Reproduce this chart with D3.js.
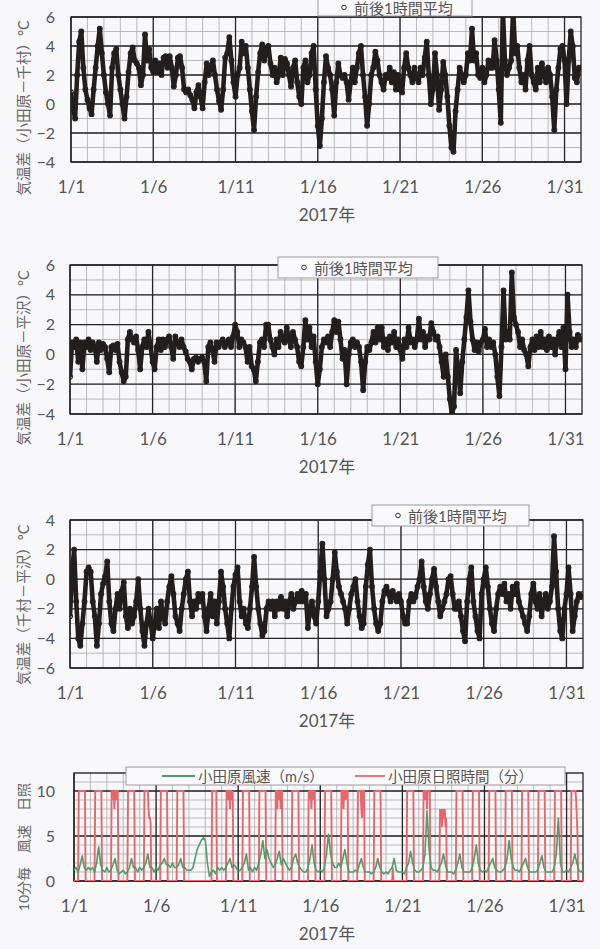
<!DOCTYPE html>
<html><head><meta charset="utf-8">
<script src="https://cdn.jsdelivr.net/npm/d3@7"></script>
<style>
body{margin:0;background:#f8f8fb;}
svg{display:block;}
text{font-family:Lato,'Noto Sans CJK JP',sans-serif;fill:#555;}
</style></head><body>
<svg id="c" width="600" height="949"></svg>
<script>
// ---------- DATA (3-hourly samples from 2017-01-01 00:00) ----------
const sampleHours = 3;
const tickDays = [1, 6, 11, 16, 21, 26, 31];
const tickLabels = ["1/1", "1/6", "1/11", "1/16", "1/21", "1/26", "1/31"];
const yearLabel = "2017年";
const legendTemp = "前後1時間平均";
const legendWind = "小田原風速（m/s）";
const legendSun = "小田原日照時間（分）";
const titles = ["気温差（小田原－千村）°C", "気温差（小田原－平沢）°C", "気温差（千村－平沢）°C", "10分毎　風速　日照"];
const yTicksA = [-4, -2, 0, 2, 4, 6];
const yTicksB = [-6, -4, -2, 0, 2, 4];
const yTicksC = [0, 5, 10];

// 気温差（小田原－千村）
const diffOdaChi = [
 0.8,-0.3,-1.0,2.0,4.3,5.0,2.5,1.0,
 0.3,-0.3,-0.7,1.0,2.5,4.0,5.2,3.5,
 2.0,0.8,0.0,-0.8,2.5,3.5,3.8,2.0,
 1.0,0.0,-1.0,0.5,2.2,3.5,3.9,3.0,
 2.8,2.5,1.3,2.0,4.8,3.0,3.8,2.5,
 2.2,3.0,2.2,2.8,2.0,3.2,3.3,2.5,
 3.3,2.5,1.2,2.0,3.2,3.3,2.5,1.0,
 0.8,1.0,0.6,0.3,-0.3,0.8,1.3,0.5,
 -0.3,1.5,2.8,2.0,2.5,3.0,2.0,1.0,
 0.2,-0.4,1.0,3.2,3.5,4.6,3.0,1.5,
 0.5,2.0,2.5,4.3,3.5,4.0,2.5,1.0,
 -0.5,-1.8,0.5,2.2,3.5,4.1,3.0,3.8,
 4.0,2.8,2.0,2.5,1.5,2.0,3.2,2.0,
 3.1,2.8,2.0,1.2,2.5,3.0,1.5,0.5,
 0.0,2.5,3.0,1.5,2.0,3.5,4.0,1.0,
 -1.5,-2.9,-1.0,1.5,3.3,2.5,2.0,1.0,
 -0.8,1.5,2.8,2.0,1.8,2.0,1.5,0.3,
 1.5,2.5,1.5,2.5,3.5,4.0,2.0,0.5,
 -1.5,0.0,2.0,2.5,3.6,3.0,2.0,1.5,
 1.0,2.0,1.8,2.5,1.5,2.2,1.0,2.0,
 1.0,0.8,2.5,3.5,2.5,2.0,1.5,2.5,
 1.8,1.5,2.5,2.0,3.2,4.3,2.0,0.0,
 1.0,3.5,2.0,-0.4,1.0,2.9,2.0,0.5,
 -1.5,-3.0,-3.3,-0.5,1.0,2.5,2.0,1.5,
 2.0,3.5,3.0,5.2,3.0,3.5,2.0,1.8,
 2.5,1.5,2.0,3.0,2.5,2.5,4.4,3.0,
 1.0,-1.3,6.5,3.0,2.0,2.5,3.0,6.5,
 3.5,4.0,2.5,1.5,2.0,1.0,3.0,4.0,
 2.0,1.5,1.0,2.5,1.5,2.8,2.0,1.5,
 2.5,2.0,0.5,-1.8,1.0,2.5,3.8,4.0,
 3.0,0.0,3.0,5.0,4.0,1.8,1.5,2.5,
 2.5];

// 気温差（小田原－平沢）
const diffOdaHira = [
 -1.5,0.8,0.5,1.0,-0.5,0.8,-1.0,0.8,
 0.5,1.0,0.3,0.8,0.5,-0.5,0.8,0.3,
 0.7,0.5,-0.3,-1.2,0.5,0.6,0.3,0.7,
 -0.5,-1.2,-1.8,-1.5,1.0,1.5,1.0,0.8,
 1.2,0.3,-1.0,0.5,1.0,0.5,1.5,0.5,
 -0.5,-1.0,0.5,1.0,0.3,1.0,0.5,1.0,
 1.2,0.5,-0.3,1.2,0.8,0.5,1.0,0.5,
 0.2,-0.3,-0.5,-1.0,-0.3,-0.2,-0.5,-0.3,
 -0.2,-0.5,-1.8,0.5,0.8,0.3,-0.5,0.8,
 0.5,0.8,1.0,0.5,0.8,1.0,0.5,1.2,
 2.0,1.5,0.5,1.0,0.8,0.5,-0.5,0.5,
 -0.8,-1.0,-1.8,-0.5,0.8,1.0,0.5,2.0,
 2.0,1.0,0.5,0.0,1.0,0.5,1.5,1.0,
 0.8,1.8,1.0,0.5,1.5,1.0,0.5,-0.5,
 -0.8,0.5,2.3,1.0,1.8,0.5,1.2,-0.5,
 -2.0,-1.0,0.5,1.0,0.8,1.2,0.5,1.5,
 2.3,1.5,2.2,1.0,-0.3,0.3,-2.0,0.0,
 0.8,1.0,0.5,0.8,0.5,-0.5,-2.4,-0.5,
 0.5,0.3,0.8,1.5,0.8,1.8,1.0,1.8,
 0.5,1.0,0.3,1.2,0.8,1.5,0.5,1.0,
 0.3,-0.3,1.0,0.5,1.8,0.8,1.0,0.5,
 1.0,2.4,1.0,1.5,0.5,1.2,1.0,2.1,
 1.5,1.0,1.2,0.5,-0.5,-1.5,0.0,-1.5,
 -3.0,-4.0,-3.5,0.3,-1.0,-2.6,-0.5,1.0,
 2.5,4.3,2.2,1.0,0.3,0.8,0.2,0.8,
 1.0,1.7,0.5,1.0,0.5,0.8,0.0,-1.5,
 -2.8,0.5,4.3,1.0,1.5,1.0,5.5,2.5,
 2.0,1.5,0.5,1.0,0.3,0.0,-0.8,0.5,
 1.0,0.3,1.2,0.5,1.5,0.5,1.0,0.3,
 1.2,0.5,1.0,0.0,1.0,1.5,0.5,1.8,
 -1.0,4.0,1.5,0.5,1.0,0.5,1.3,1.0,
 1.2];

// 気温差（千村－平沢）
const diffChiHira = [
 -2.5,0.5,2.0,-1.5,-4.0,-4.5,-3.0,-1.5,
 0.5,0.8,0.5,-1.5,-2.5,-4.5,-3.0,-1.0,
 -0.3,0.2,1.2,-1.5,-3.0,-3.5,-2.0,-1.0,
 -2.0,-0.8,-0.2,-2.5,-3.3,-2.0,-3.0,-2.5,
 -1.5,0.0,-2.0,-3.5,-4.5,-3.0,-2.0,-3.0,
 -4.0,-3.0,-2.0,-3.3,-1.5,-2.5,-3.0,-1.5,
 -0.5,0.2,-1.0,-2.5,-3.0,-3.5,-2.0,-1.0,
 0.0,0.5,-1.5,-2.5,-1.5,-2.0,-1.0,-1.5,
 -1.0,-2.5,-3.5,-2.0,-1.0,-2.5,-1.5,-3.0,
 -1.5,0.5,-0.5,-2.0,-3.0,-4.0,-2.0,-0.5,
 0.3,0.8,-1.5,-2.5,-2.0,-3.0,-3.3,-2.0,
 -0.5,1.5,-0.5,-2.0,-3.0,-3.8,-3.5,-2.0,
 -1.5,-2.0,-1.5,-2.5,-1.5,-2.0,-1.2,-2.0,
 -1.5,-2.5,-1.5,-1.0,-2.0,-1.5,-1.0,-1.5,
 -0.8,-1.5,-1.0,-3.3,-2.0,-1.5,-2.5,-3.0,
 -1.5,0.5,2.4,0.0,-2.5,-2.0,-1.5,0.0,
 1.8,0.5,-0.5,-1.0,-1.5,-2.0,-3.0,-2.0,
 -1.0,-0.5,0.0,-1.5,-2.5,-3.3,-3.0,-0.5,
 1.0,2.0,-0.5,-2.0,-3.0,-3.5,-3.0,-1.5,
 -0.8,-0.5,-1.0,-1.5,-0.8,-1.2,-1.5,-1.0,
 -1.5,-2.5,-3.0,-3.0,-1.5,-1.0,-1.5,-1.2,
 -0.5,0.0,1.2,-0.5,-1.5,-2.0,-1.0,0.0,
 0.7,-0.5,-1.5,-2.5,-2.0,-1.5,-1.0,0.0,
 0.2,-1.0,-2.0,-2.0,-1.5,-2.5,-3.5,-4.2,
 -1.5,0.0,0.8,-1.5,-2.5,-3.5,-4.0,-1.0,
 0.0,0.8,-0.5,-2.0,-3.0,-3.5,-2.0,-1.0,
 -0.5,-1.0,-0.3,-1.5,-1.0,-2.0,-0.5,-1.0,
 -0.3,-1.5,-2.0,-2.5,-3.0,-3.5,-2.5,-1.0,
 -0.3,-1.5,-2.0,-1.0,-2.5,-1.5,-1.0,-2.0,
 -1.5,-0.5,2.9,0.5,-2.0,-3.5,-4.0,-2.0,
 -1.0,0.8,-1.0,-3.5,-2.5,-1.5,-1.0,-1.2,
 -1.0];

// 小田原風速 (m/s), 3-hourly
const windOda = [
 1.2,1.5,1.0,1.8,2.8,1.5,1.2,1.5,
 1.2,1.5,1.0,2.0,3.8,1.8,1.2,1.0,
 1.5,1.0,1.2,1.8,2.5,1.2,0.8,1.0,
 1.2,0.8,1.0,1.5,2.5,1.5,1.5,1.0,
 1.5,1.2,1.5,2.0,3.0,1.5,1.5,1.0,
 1.5,1.2,1.8,2.0,2.5,1.8,1.8,1.5,
 2.0,1.5,1.5,1.8,2.5,1.5,1.5,1.2,
 1.2,1.2,1.5,2.5,3.5,4.0,4.5,4.8,
 4.5,2.0,0.5,1.0,1.2,0.8,1.5,1.2,
 1.5,1.2,1.5,2.0,2.5,1.5,1.8,1.5,
 1.0,1.2,1.5,2.0,3.0,1.2,1.5,1.0,
 1.5,1.2,2.0,3.0,4.5,2.5,3.5,2.5,
 2.0,1.5,1.8,2.5,3.3,1.8,2.5,2.0,
 1.5,1.2,1.5,2.5,3.0,2.0,1.5,1.2,
 1.0,1.0,1.5,2.5,4.0,2.0,1.2,1.0,
 1.2,1.0,1.5,3.0,5.2,3.0,2.0,1.5,
 1.5,2.0,1.5,2.5,3.5,2.0,1.0,1.0,
 1.0,1.2,1.0,1.8,2.5,1.5,1.0,1.0,
 1.0,0.8,1.0,1.5,2.5,1.5,1.0,0.8,
 1.0,0.8,1.2,1.5,2.5,1.2,1.0,1.0,
 1.0,0.8,1.5,2.0,3.3,2.0,1.2,1.0,
 1.0,1.2,1.5,3.0,7.8,3.5,1.5,1.2,
 1.2,1.0,1.5,2.0,3.0,1.8,1.0,1.0,
 1.0,0.8,1.2,2.0,3.0,1.5,1.0,1.0,
 1.0,1.0,1.5,2.5,4.0,2.0,1.2,1.0,
 1.2,1.0,1.5,2.0,2.5,1.5,1.2,1.0,
 1.0,1.2,1.5,2.5,4.5,2.5,1.5,1.2,
 1.2,1.0,1.5,2.0,2.5,1.5,1.0,1.0,
 1.0,1.0,1.2,2.0,2.8,1.5,1.0,1.0,
 1.0,1.0,1.5,3.0,7.0,2.0,1.0,1.0,
 1.2,1.0,1.5,2.0,3.0,2.0,1.2,1.0,
 1.2];

// 小田原日照時間 (min per 10 min), hourly 06:00..17:00 of each day (0 at night)
const sunFirstHour = 6;
const sunOda = [
 [0,10,10,10,10,10,10,10,10,10,10,0],
 [0,10,10,10,10,10,10,10,10,10,10,0],
 [0,10,10,9,10,8,10,10,9,10,10,0],
 [0,10,10,10,10,10,10,10,10,10,10,0],
 [0,10,10,10,10,10,10,8,7,7,6.5,0],
 [0,10,10,10,10,10,10,10,10,10,10,0],
 [0,10,10,10,10,10,10,10,10,10,10,0],
 [0,0,0,0,0,0,0,0,0,0,0,0],
 [0,0,0,0,10,10,10,10,10,10,10,0],
 [0,10,10,9,10,10,8,10,10,9,10,0],
 [0,10,10,10,10,10,10,10,10,10,10,0],
 [0,10,10,10,10,10,10,10,10,10,10,0],
 [0,10,10,8,10,10,9,10,8,10,10,0],
 [0,10,10,10,10,10,10,10,10,10,10,0],
 [0,10,9,10,10,8,10,10,9,10,10,0],
 [0,10,10,10,10,10,10,10,10,10,10,0],
 [0,10,10,10,8,10,10,9,10,10,10,0],
 [0,10,10,10,10,10,8,7,10,10,10,0],
 [0,10,10,10,10,10,10,10,10,10,10,0],
 [0,0,0,0,1.5,0,0,0,0,0,0,0],
 [0,10,10,10,10,10,10,10,10,10,10,0],
 [0,10,10,9,10,10,8,10,10,10,10,0],
 [0,8,7,8,6,8,7,7,8,6,7,0],
 [0,10,10,10,10,10,10,10,10,10,10,0],
 [0,10,10,10,10,10,10,10,10,10,10,0],
 [0,10,10,10,10,10,10,10,10,10,10,0],
 [0,10,10,10,10,10,10,10,10,10,10,0],
 [0,10,10,10,10,10,10,10,10,10,10,0],
 [0,10,10,10,10,10,10,10,10,10,10,0],
 [0,10,10,10,10,10,10,10,10,10,10,0],
 [0,10,10,10,10,10,10,10,9,7,5,0]
];

// ---------- BUILD ----------
const HOUR = 3600 * 1000;
const start = new Date(Date.UTC(2017, 0, 1));
const end = new Date(Date.UTC(2017, 1, 1));
const asSeries = (vals, step) => vals.map((v, i) => ({ t: new Date(+start + i * step * HOUR), v }));
const sunSeries = [];
sunOda.forEach((row, d) => {
  sunSeries.push({ t: new Date(+start + d * 24 * HOUR), v: 0 });
  row.forEach((v, h) => sunSeries.push({ t: new Date(+start + (d * 24 + sunFirstHour + h) * HOUR), v }));
});
sunSeries.push({ t: end, v: 0 });
const tickDates = tickDays.map(d => new Date(Date.UTC(2017, 0, d)));

const svg = d3.select("#c");
svg.append("rect").attr("width", 600).attr("height", 949).attr("fill", "#f8f8fb");

const panels = [
  { data: diffOdaChi, left: 71, right: 581, top: 17, bottom: 162, yd: [-4, 6], yt: yTicksA, title: titles[0], titleY: 108,
    legend: { x: 318, y: -3, w: 154, h: 19 } },
  { data: diffOdaHira, left: 70, right: 582, top: 265, bottom: 414, yd: [-4, 6], yt: yTicksA, title: titles[1], titleY: 358,
    legend: { x: 278, y: 257, w: 160, h: 21 } },
  { data: diffChiHira, left: 70, right: 583, top: 520, bottom: 668, yd: [-6, 4], yt: yTicksB, title: titles[2], titleY: 605,
    legend: { x: 372, y: 505, w: 157, h: 21 } },
  { wind: true, left: 74, right: 583, top: 773, bottom: 881, yd: [0, 12], yt: yTicksC, title: titles[3], titleY: 847,
    legend: { x: 126, y: 767, w: 439, h: 18 } }
];

panels.forEach((p, idx) => {
  const g = svg.append("g");
  const x = d3.scaleUtc().domain([start, end]).range([p.left, p.right]);
  const y = d3.scaleLinear().domain(p.yd).range([p.bottom, p.top]);

  // minor grid
  const days = d3.utcDay.range(start, end);
  g.append("g").selectAll("line").data(days).join("line")
    .attr("x1", d => x(d)).attr("x2", d => x(d)).attr("y1", p.top).attr("y2", p.bottom)
    .attr("stroke", "#aaa").attr("stroke-width", 0.8);
  g.append("g").selectAll("line").data(d3.range(p.yd[0], p.yd[1] + 0.001, 1)).join("line")
    .attr("x1", p.left).attr("x2", p.right).attr("y1", d => y(d)).attr("y2", d => y(d))
    .attr("stroke", "#aaa").attr("stroke-width", 0.8);
  // major grid
  g.append("g").selectAll("line").data(tickDates).join("line")
    .attr("x1", d => x(d)).attr("x2", d => x(d)).attr("y1", p.top).attr("y2", p.bottom)
    .attr("stroke", "#262626").attr("stroke-width", 1.3);
  g.append("g").selectAll("line").data(p.yt).join("line")
    .attr("x1", p.left).attr("x2", p.right).attr("y1", d => y(d)).attr("y2", d => y(d))
    .attr("stroke", "#262626").attr("stroke-width", 1.3);
  g.append("rect").attr("x", p.left).attr("y", p.top).attr("width", p.right - p.left).attr("height", p.bottom - p.top)
    .attr("fill", "none").attr("stroke", "#262626").attr("stroke-width", 1.3);

  // clip
  const cid = "clip" + idx;
  svg.append("clipPath").attr("id", cid).append("rect")
    .attr("x", p.left).attr("y", p.top).attr("width", p.right - p.left).attr("height", p.bottom - p.top);
  const s = g.append("g").attr("clip-path", `url(#${cid})`);

  if (!p.wind) {
    const data = asSeries(p.data, sampleHours);
    const line = d3.line().x(d => x(d.t)).y(d => y(d.v));
    s.append("path").datum(data).attr("d", line).attr("fill", "none")
      .attr("stroke", "#231e1e").attr("stroke-width", 4.6).attr("stroke-linejoin", "round");
    s.append("g").selectAll("circle").data(data).join("circle")
      .attr("cx", d => x(d.t)).attr("cy", d => y(d.v)).attr("r", 2.4)
      .attr("fill", "none").attr("stroke", "#231e1e").attr("stroke-width", 1.1);
  } else {
    const line = d3.line().x(d => x(d.t)).y(d => y(d.v));
    s.append("path").datum(sunSeries).attr("d", line).attr("fill", "none")
      .attr("stroke", "#e8666b").attr("stroke-width", 1.9);
    s.append("path").datum(asSeries(windOda, sampleHours)).attr("d", line).attr("fill", "none")
      .attr("stroke", "#4e9c68").attr("stroke-width", 1.6).attr("stroke-linejoin", "round");
  }

  // axes (labels only)
  const xa = g.append("g").attr("transform", `translate(0,${p.bottom})`)
    .call(d3.axisBottom(x).tickValues(tickDates).tickFormat((d, i) => tickLabels[i]).tickSize(0).tickPadding(19));
  xa.select(".domain").remove();
  xa.selectAll("text").attr("font-size", 17).attr("font-family", null).style("fill", "#555");
  const ya = g.append("g").attr("transform", `translate(${p.left},0)`)
    .call(d3.axisLeft(y).tickValues(p.yt).tickSize(0).tickPadding(p.left - 55));
  ya.select(".domain").remove();
  ya.selectAll("text").attr("font-size", 16).attr("font-family", null).style("fill", "#555");

  g.append("text").attr("x", 327).attr("y", p.bottom + 59).attr("text-anchor", "middle")
    .attr("font-size", 17).text(yearLabel);
  g.append("text").attr("transform", `translate(23,${p.titleY}) rotate(-90)`)
    .attr("text-anchor", "middle").attr("dominant-baseline", "central")
    .attr("font-size", p.wind ? 14 : 14.5).style("fill", "#666").text(p.title);

  // legend
  const L = p.legend;
  const lg = g.append("g");
  lg.append("rect").attr("x", L.x).attr("y", L.y).attr("width", L.w).attr("height", L.h)
    .attr("fill", "#fafafc").attr("stroke", "#9a9a9a").attr("stroke-width", 1);
  const cy = L.y + L.h / 2 + (idx === 0 ? 1 : 0);
  if (!p.wind) {
    lg.append("circle").attr("cx", L.x + 26).attr("cy", cy).attr("r", 2.3)
      .attr("fill", "none").attr("stroke", "#333").attr("stroke-width", 1);
    lg.append("text").attr("x", L.x + 36).attr("y", cy).attr("dominant-baseline", "central")
      .attr("font-size", 15).text(legendTemp);
  } else {
    lg.append("line").attr("x1", 162).attr("x2", 195).attr("y1", cy).attr("y2", cy)
      .attr("stroke", "#4e9c68").attr("stroke-width", 1.8);
    lg.append("text").attr("x", 198).attr("y", cy).attr("dominant-baseline", "central")
      .attr("font-size", 14.5).text(legendWind);
    lg.append("line").attr("x1", 355).attr("x2", 385).attr("y1", cy).attr("y2", cy)
      .attr("stroke", "#e8666b").attr("stroke-width", 1.8);
    lg.append("text").attr("x", 388).attr("y", cy).attr("dominant-baseline", "central")
      .attr("font-size", 14.5).text(legendSun);
  }
});
</script>
</body></html>
